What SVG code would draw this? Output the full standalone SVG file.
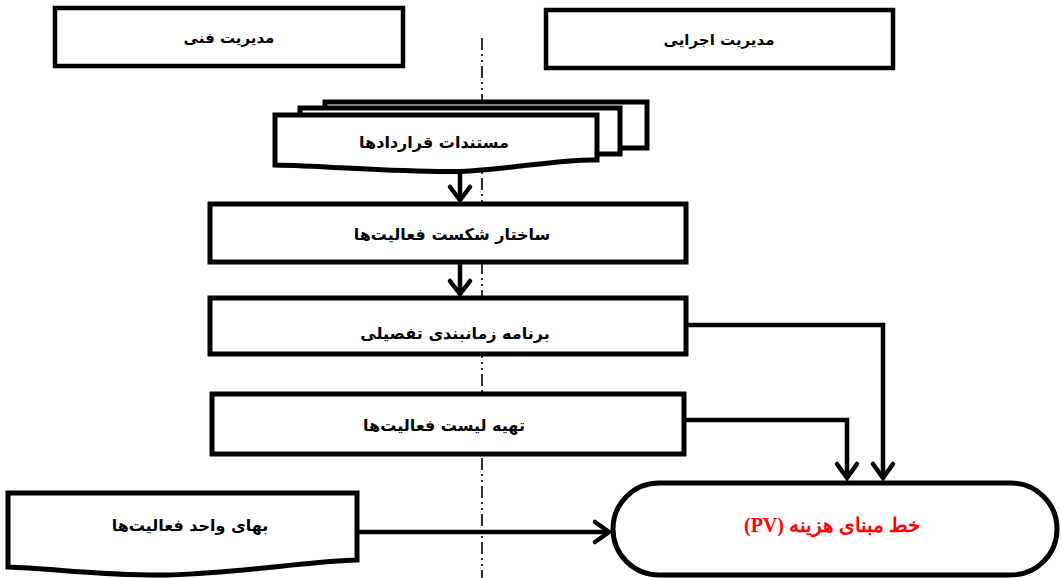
<svg xmlns="http://www.w3.org/2000/svg" width="1061" height="578" viewBox="0 0 1061 578">
<style>
.box{fill:#fff;stroke:#000;stroke-width:5}
.hdr{fill:#fff;stroke:#000;stroke-width:4.5}
.lbl{font-family:"DejaVu Sans","Noto Sans",sans-serif;font-weight:bold;font-size:16px;fill:#000;text-anchor:middle;direction:rtl}
.hlbl{font-family:"DejaVu Sans","Noto Sans",sans-serif;font-weight:bold;font-size:15px;fill:#000;text-anchor:middle;direction:rtl}
.red{font-family:"Liberation Serif","DejaVu Serif",serif;font-weight:bold;font-size:20px;fill:#ff0000;text-anchor:middle;direction:rtl}
.con{fill:none;stroke:#000;stroke-width:4.5}
.head{fill:none;stroke:#000;stroke-width:4.5;stroke-linecap:round;stroke-linejoin:miter}
.axis{stroke:#000;stroke-width:1.6;stroke-dasharray:12 4 2 4 2 4;fill:none}
</style>
<rect width="1061" height="578" fill="#fff"/>
<g id="axis-line"><line class="axis" x1="482" y1="38" x2="482" y2="578"/></g>
<g id="hdr-fanni"><rect class="hdr" x="55" y="8" width="348" height="58"/><text class="hlbl" x="229" y="43">مدیریت فنی</text></g>
<g id="hdr-ejraei"><rect class="hdr" x="546" y="10" width="347" height="58"/><text class="hlbl" x="719" y="45">مدیریت اجرایی</text></g>
<g id="contracts">
<rect class="box" x="325" y="102" width="322" height="46"/>
<rect class="box" x="300" y="108" width="320" height="46"/>
<path class="box" d="M275,115 H597 V160 C560,159 520,168 470,171 C420,174 330,166 275,165 Z"/>
<text class="lbl" x="434" y="148">مستندات قراردادها</text>
</g>
<g id="wbs"><rect class="box" x="210" y="204" width="476" height="58"/><text class="lbl" x="452" y="240">ساختار شکست فعالیت‌ها</text></g>
<g id="schedule"><rect class="box" x="210" y="298" width="476" height="56"/><text class="lbl" x="455" y="339">برنامه زمانبندی تفصیلی</text></g>
<g id="activity-list"><rect class="box" x="212" y="394" width="472" height="60"/><text class="lbl" x="444" y="431">تهیه لیست فعالیت‌ها</text></g>
<g id="unit-price"><path class="box" d="M8,493 H357 V560 C300,562 250,572 170,575 C100,576 50,568 8,567 Z"/><text class="lbl" x="190" y="531">بهای واحد فعالیت‌ها</text></g>
<g id="pv"><rect class="box" x="613" y="483" width="444" height="92" rx="46" ry="46"/><text class="red" x="832" y="532">خط مبنای هزینه (PV)</text></g>
<g id="connectors">
<path class="con" d="M460,170 V200"/>
<path class="head" d="M450,187 L460,200 L470,187"/>
<path class="con" d="M460,262 V294"/>
<path class="head" d="M450,281 L460,294 L470,281"/>
<path class="con" d="M686,325 H883 V478"/>
<path class="head" d="M873,464 L883,478 L893,464"/>
<path class="con" d="M684,420 H847 V478"/>
<path class="head" d="M837,464 L847,478 L857,464"/>
<path class="con" d="M357,532 H609"/>
<path class="head" d="M595,522 L609,532 L595,542"/>
</g>
</svg>
